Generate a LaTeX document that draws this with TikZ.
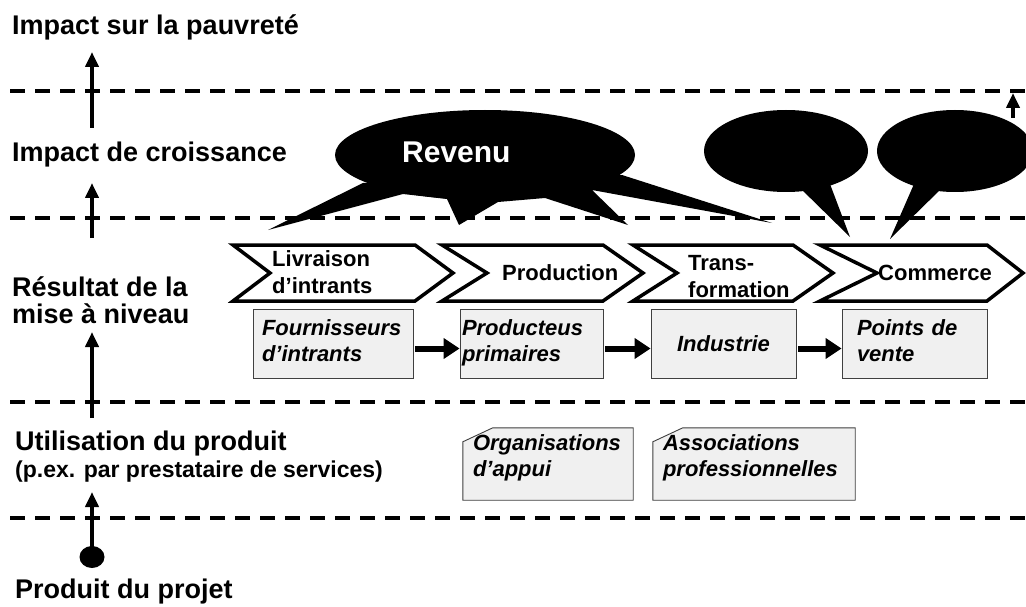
\documentclass[tikz,border=0pt]{standalone}
\usepackage{fontspec}
\setmainfont{Liberation Sans}
\usetikzlibrary{arrows.meta,
shapes.misc,
shapes.geometric,
positioning}

\begin{document}
\begin{tikzpicture} [x=1pt, y=-1pt,
    level/.style={font=\fontsize{27pt}{27pt}\selectfont\bfseries,
        inner sep=0, anchor=base west, align=left},
    sublevel/.style={font=\fontsize{23pt}{27pt}\selectfont\bfseries,
        inner sep=0, anchor=base west},
    chevtext/.style={font=\fontsize{22pt}{27pt}\selectfont\bfseries,
        inner sep=0, anchor=base west, align=left},
    actor/.style={rectangle, draw=black!75, line width=0.9pt, fill=gray!12,
        font=\fontsize{22pt}{26pt}\selectfont\bfseries\itshape,
        minimum height=69pt, inner sep=0, align=left},
    support/.style={rectangle, inner sep=0, align=left,
        font=\fontsize{22pt}{26pt}\selectfont\bfseries\itshape,
        minimum height=72pt},
    folded/.style={draw=black!75, line width=0.9pt, fill=gray!12},
    levelline/.style={line width=3.5pt, dash pattern=on 15pt off 10pt},
    uparrow/.style={line width=4pt, -{Triangle[length=15pt, width=13pt]}},
    flow/.style={line width=6pt, -{Triangle[length=16pt, width=20pt]}},
    chev/.style={line width=3.5pt, draw, fill=white, line join=miter}
  ]

  \useasboundingbox (0,0) rectangle (1026,607);

  % level separators
  \foreach \y in {91, 218, 402, 518}
    \draw [levelline] (10,\y) -- (1026,\y);

  % levels
  \node [level] (pauv) at (12,35) {Impact sur la pauvreté};
  \node [level] (crois) at (12,161) {Impact de croissance};
  \node [level] (result) at (12,323) {Résultat de la\\mise à niveau};
  \node [level] (util) at (15,450) {Utilisation du produit};
  \node [sublevel] (util2) at (15,477) {(p.ex. par prestataire de services)};
  \node [level] (produit) at (15,598) {Produit du projet};

  \coordinate (a1s) at (92,128);
  \coordinate (a1e) at (92,52);
  \coordinate (a2s) at (92,238);
  \coordinate (a2e) at (92,183);
  \coordinate (a3s) at (92,418);
  \coordinate (a3e) at (92,332);
  \coordinate (a4e) at (92,492);
  \coordinate (a5s) at (1013,118);
  \coordinate (a5e) at (1013,93);

  \node [ellipse, fill, minimum width=25pt, minimum height=22pt,
    inner sep=0] (dot) at (92,557) {};

  \draw [uparrow] (a1s) -- (a1e);
  \draw [uparrow] (a2s) -- (a2e);
  \draw [uparrow] (a3s) -- (a3e);
  \draw [uparrow] (dot.center) -- (a4e);
  \draw [uparrow] (a5s) -- (a5e);

  % bubbles
  \fill (485,155) ellipse [x radius=150pt, y radius=45pt];
  \fill (363,183) -- (268,230) -- (403,194) -- (447,199) -- (459,225)
    -- (498,202) -- (545,198) -- (628,225) -- (592,190) -- (772,223)
    -- (622,175) -- cycle;
  \node [font=\fontsize{30pt}{30pt}\selectfont\bfseries, text=white,
    inner sep=0, anchor=base west] (revenu) at (402,163) {Revenu};

  \fill (786,151) ellipse [x radius=82pt, y radius=41pt];
  \fill (798,186) -- (850,237) -- (830,184) -- cycle;

  \fill (955,151) ellipse [x radius=78pt, y radius=41pt];
  \fill (914,184) -- (890,239) -- (942,188) -- cycle;

  % value chain
  \foreach \l/\n/\r/\t in {233/270/415/453, 442/487/603/643,
      633/677/793/833, 820/877/987/1023}
    \draw [chev] (\l,245) -- (\r,245) -- (\t,273) -- (\r,301)
      -- (\l,301) -- (\n,273) -- cycle;

  \node [chevtext] (livr) at (272,293) {Livraison\\d’intrants};
  \node [chevtext] (prodn) at (502,280) {Production};
  \node [chevtext] (trans) at (688,297) {Trans-\\formation};
  \node [chevtext] (comm) at (878,280) {Commerce};

  \node [actor, minimum width=160pt, text width=142pt] (fourn)
    at (333,343.5) {Fournisseurs\strut\\d’intrants\strut};
  \node [actor, minimum width=143pt, text width=139pt] (prim)
    at (531.5,343.5) {Producteus\strut\\primaires\strut};
  \node [actor, minimum width=145pt, text width=145pt, align=center] (indus)
    at (723.5,343.5) {Industrie};
  \node [actor, minimum width=145pt, text width=115pt] (vente)
    at (914.5,343.5) {Points de\strut\\vente\strut};

  \draw [flow, shorten <=2pt] ([yshift=-5pt]fourn.east) -- ([yshift=-5pt]prim.west);
  \draw [flow, shorten <=2pt] ([yshift=-5pt]prim.east) -- ([yshift=-5pt]indus.west);
  \draw [flow, shorten <=2pt] ([yshift=-5pt]indus.east) -- ([yshift=-5pt]vente.west);

  % support
  \node [support, minimum width=170pt, text width=150pt] (orga)
    at (548,464) {};
  \node [support, minimum width=202pt, text width=182pt] (assoc)
    at (754,464) {};
  \foreach \b in {orga, assoc}
    \draw [folded] (\b.south west) -- (\b.south east) -- (\b.north east)
      -- ([xshift=30pt]\b.north west) -- ([yshift=-14pt]\b.north west)
      -- cycle;
  \node [support, text width=150pt, yshift=6pt] at (orga)
    {Organisations\\d’appui};
  \node [support, text width=182pt, yshift=6pt] at (assoc)
    {Associations\\professionnelles};

\end{tikzpicture}
\end{document}
